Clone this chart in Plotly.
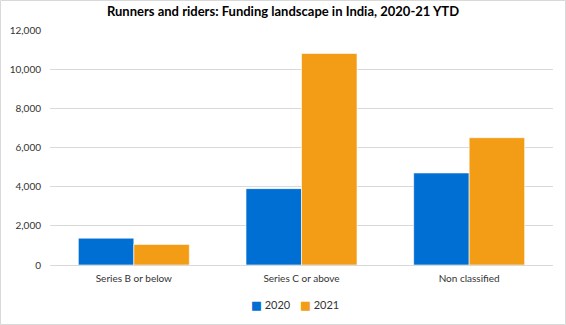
import plotly.graph_objects as go

categories = ["Series B or below", "Series C or above", "Non classified"]
values_2020 = [1370, 3900, 4700]
values_2021 = [1050, 10800, 6500]
series_names = ["2020", "2021"]
tick_vals = [0, 2000, 4000, 6000, 8000, 10000, 12000]
tick_text = ["0", "2,000", "4,000", "6,000", "8,000", "10,000", "12,000"]

BLUE = "#006FD3"
ORANGE = "#F39C16"
COLORS = [BLUE, ORANGE]
FONT = "Lato"

fig = go.Figure()
for name, vals, col in zip(series_names, [values_2020, values_2021], COLORS):
    fig.add_trace(go.Bar(x=categories, y=vals, name=name, showlegend=False,
                         marker=dict(color=col, line=dict(color="rgba(255,255,255,0.6)", width=1))))

L, R, T, B = 50, 13, 30, 60
W, H = 566, 325
pw, ph = W - L - R, H - T - B

# legend drawn as text annotations (compact square + label, as in the reference)
legend_x_px = [249, 298]
annotations = []
for name, col, xp in zip(series_names, COLORS, legend_x_px):
    annotations.append(dict(
        text=f'<span style="color:{col};font-size:11.5px;font-family:DejaVu Sans">■</span> {name}',
        xref="paper", yref="paper", x=(xp - L) / pw, y=(H - B - 305) / ph,
        xanchor="left", yanchor="middle", showarrow=False,
        font=dict(family=FONT, size=11, color="#333333")))

fig.update_layout(
    width=W, height=H,
    margin=dict(l=L, r=R, t=T, b=B, pad=0, autoexpand=False),
    paper_bgcolor="white", plot_bgcolor="white",
    barmode="group", bargap=0.338, bargroupgap=0,
    font=dict(family=FONT, size=10, color="#333333"),
    title=dict(text="<b>Runners and riders: Funding landscape in India, 2020-21 YTD</b>",
               x=0.5, xanchor="center", y=1 - 11 / H, yanchor="middle",
               font=dict(family=FONT, size=13, color="#000000")),
    showlegend=False,
    annotations=annotations,
    xaxis=dict(showgrid=False, showline=False, ticks="", ticklabelstandoff=6,
               tickfont=dict(size=10, color="#333333")),
    yaxis=dict(range=[0, 12000], tickvals=tick_vals, ticktext=tick_text,
               showgrid=True, gridcolor="#D9D9D9", gridwidth=1,
               zeroline=True, zerolinecolor="#D9D9D9", zerolinewidth=1,
               showline=False, ticks="", ticklabelstandoff=8,
               tickfont=dict(size=10, color="#333333")),
    shapes=[dict(type="rect", xref="paper", yref="paper",
                 x0=-(L - 0.5) / pw, x1=(W - L - 0.5) / pw,
                 y0=-(B - 0.5) / ph, y1=(ph + T - 0.5) / ph,
                 line=dict(color="#D9D9D9", width=1), layer="below")],
)

fig.write_html("out.html")
